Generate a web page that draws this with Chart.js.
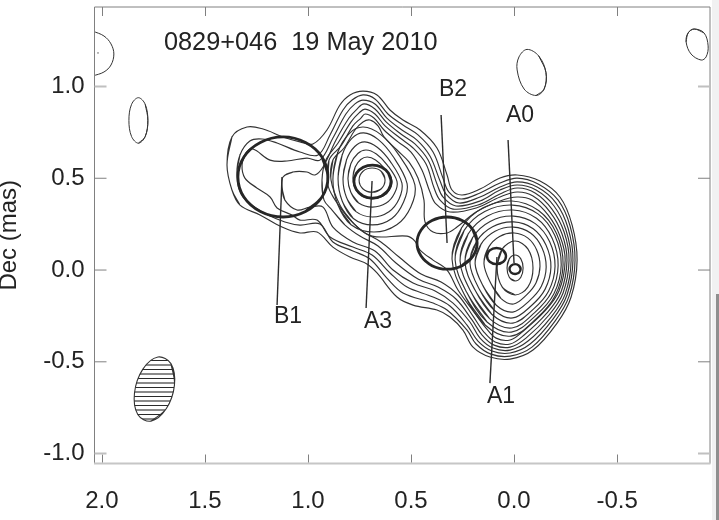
<!DOCTYPE html>
<html><head><meta charset="utf-8">
<style>html,body{margin:0;padding:0;background:#fff;overflow:hidden;width:719px;height:520px}
#c{position:absolute;left:0;top:0}
#strip{position:absolute;left:712px;top:0;width:7px;height:520px;background:#f1f1f2}
#thumb{position:absolute;left:716px;top:294px;width:3px;height:226px;background:#8f8f8f}</style>
<script src="https://cdn.jsdelivr.net/npm/chart.js@4"></script></head>
<body><canvas id="c" width="719" height="520"></canvas><div id="strip"></div><div id="thumb"></div>
<script>
const xTicks=[2.0,1.5,1.0,0.5,0.0,-0.5];
const yTicks=[-1.0,-0.5,0.0,0.5,1.0];
const titleText="0829+046  19 May 2010";
const titlePos=[1.699,1.248];
const labelNames=["B1","A3","B2","A0","A1"];
const labelX=[1.097,0.660,0.296,-0.029,0.063];
const labelY=[-0.245,-0.272,0.992,0.850,-0.681];
// shared contours (around A3 and A0, outer ones also round B1)
const s1=[[1.393,.572],[1.369,.725],[1.296,.779],[1.218,.768],[1.121,.725],[1.039,.698],[.976,.687],[.908,.763],[.845,.899],[.796,.954],[.733,.975],[.665,.954],[.602,.872],[.539,.817],[.456,.763],[.374,.665],[.325,.518],[.301,.436],[.252,.409],[.165,.441],[.068,.501],[-.015,.518],[-.126,.485],[-.223,.398],[-.282,.245],[-.306,.054],[-.277,-.147],[-.209,-.289],[-.092,-.436],[.019,-.485],[.117,-.474],[.199,-.420],[.248,-.327],[.311,-.256],[.374,-.218],[.490,-.191],[.568,-.147],[.665,-.016],[.714,.033],[.796,.071],[.879,.125],[.956,.207],[1.039,.202],[1.126,.234],[1.233,.300],[1.330,.354],[1.369,.436]];
const s2=[[1.345,.518],[1.330,.627],[1.282,.703],[1.223,.714],[1.150,.692],[1.039,.643],[.951,.627],[.893,.736],[.830,.872],[.786,.926],[.733,.954],[.675,.932],[.612,.850],[.539,.790],[.466,.736],[.393,.643],[.345,.501],[.316,.425],[.257,.387],[.165,.420],[.068,.474],[-.015,.501],[-.117,.469],[-.214,.381],[-.272,.240],[-.296,.054],[-.267,-.142],[-.199,-.278],[-.087,-.420],[.019,-.469],[.112,-.458],[.184,-.403],[.228,-.327],[.325,-.218],[.393,-.180],[.539,-.125],[.617,-.044],[.699,.060],[.782,.104],[.879,.153],[.942,.251],[1.039,.245],[1.112,.262],[1.194,.300],[1.267,.349],[1.325,.414]];
const s3=[[1.320,.572],[1.301,.638],[1.267,.659],[1.184,.599],[1.102,.594],[1.005,.610],[.942,.599],[.879,.719],[.816,.850],[.772,.905],[.733,.926],[.675,.905],[.617,.828],[.544,.763],[.471,.708],[.408,.621],[.359,.485],[.330,.414],[.267,.365],[.165,.398],[.068,.452],[-.015,.480],[-.112,.452],[-.204,.365],[-.262,.229],[-.286,.054],[-.257,-.136],[-.189,-.267],[-.078,-.403],[.019,-.452],[.107,-.441],[.175,-.387],[.228,-.300],[.311,-.196],[.393,-.147],[.519,-.093],[.602,-.016],[.689,.082],[.782,.125],[.893,.180],[.956,.272],[1.039,.272],[1.078,.300],[1.150,.338],[1.184,.398],[1.248,.447],[1.306,.501]];
const s4=[[1.121,.507],[1.073,.534],[1.005,.534],[.966,.518],[.927,.561],[.864,.708],[.801,.828],[.762,.877],[.728,.905],[.675,.877],[.621,.807],[.549,.741],[.481,.687],[.417,.599],[.374,.469],[.345,.398],[.282,.349],[.165,.376],[.068,.436],[-.015,.463],[-.107,.436],[-.194,.349],[-.252,.218],[-.277,.054],[-.248,-.131],[-.180,-.256],[-.068,-.387],[.019,-.436],[.102,-.425],[.165,-.371],[.214,-.283],[.296,-.180],[.383,-.114],[.490,-.071],[.587,0],[.675,.104],[.782,.153],[.879,.234],[.927,.343],[.990,.343],[1.053,.327],[1.112,.381],[1.126,.452]];
const s5=[[.922,.381],[.932,.490],[.913,.599],[.854,.692],[.791,.807],[.752,.856],[.723,.877],[.675,.850],[.626,.785],[.553,.719],[.490,.665],[.427,.578],[.388,.447],[.359,.381],[.296,.332],[.175,.354],[.068,.414],[-.015,.447],[-.102,.420],[-.184,.332],[-.243,.207],[-.267,.054],[-.238,-.125],[-.170,-.245],[-.058,-.371],[.019,-.420],[.097,-.409],[.155,-.354],[.204,-.272],[.282,-.158],[.369,-.093],[.466,-.049],[.573,.038],[.660,.131],[.748,.185],[.820,.245],[.883,.327]];
const s6=[[.903,.463],[.898,.599],[.840,.676],[.782,.785],[.743,.828],[.723,.850],[.680,.828],[.631,.763],[.563,.698],[.500,.643],[.447,.545],[.408,.425],[.379,.360],[.311,.316],[.184,.338],[.068,.398],[-.015,.425],[-.092,.403],[-.175,.316],[-.233,.196],[-.257,.054],[-.228,-.120],[-.160,-.234],[-.049,-.354],[.019,-.403],[.092,-.392],[.146,-.338],[.199,-.251],[.272,-.136],[.354,-.065],[.451,-.022],[.558,.071],[.646,.153],[.738,.213],[.816,.300],[.874,.392]];
const s7=[[.888,.490],[.879,.599],[.825,.665],[.772,.763],[.733,.807],[.699,.817],[.660,.785],[.631,.725],[.568,.654],[.510,.589],[.466,.501],[.437,.381],[.432,.262],[.393,.207],[.325,.202],[.277,.234],[.184,.316],[.068,.376],[-.015,.398],[-.087,.381],[-.165,.300],[-.223,.185],[-.248,.054],[-.218,-.114],[-.150,-.223],[-.039,-.338],[.019,-.381],[.087,-.371],[.136,-.316],[.194,-.229],[.272,-.109],[.325,0],[.393,.054],[.456,.109],[.481,.158],[.519,.185],[.689,.185],[.786,.262],[.845,.354]];
// closed rings round A3
const r1=[[.879,.493],[.855,.642],[.799,.745],[.732,.779],[.648,.739],[.561,.630],[.481,.464],[.501,.344],[.569,.247],[.680,.207],[.791,.247],[.855,.356]];
const r2=[[.854,.497],[.834,.627],[.787,.717],[.730,.747],[.660,.712],[.586,.617],[.519,.471],[.536,.371],[.593,.281],[.687,.246],[.780,.281],[.834,.376]];
const r3=[[.830,.494],[.813,.600],[.773,.673],[.724,.698],[.664,.669],[.601,.592],[.544,.473],[.558,.387],[.607,.318],[.687,.289],[.767,.318],[.813,.395]];
const r4=[[.806,.499],[.792,.579],[.758,.635],[.718,.654],[.668,.632],[.616,.573],[.568,.483],[.580,.418],[.620,.365],[.687,.343],[.754,.365],[.792,.424]];
const r5=[[.782,.502],[.771,.561],[.744,.602],[.712,.616],[.672,.600],[.631,.556],[.593,.490],[.602,.442],[.635,.403],[.688,.387],[.740,.403],[.771,.447]];
const r6=[[.626,.490],[.644,.537],[.689,.556],[.734,.537],[.752,.490],[.734,.443],[.689,.424],[.644,.443]];
// closed rings round A0
const a1=[[.301,.060],[.255,.229],[.150,.339],[.010,.376],[-.119,.324],[-.206,.199],[-.238,.030],[-.200,-.139],[-.109,-.264],[.015,-.360],[.139,-.301],[.242,-.132]];
const a2=[[.286,.056],[.242,.216],[.142,.319],[.008,.354],[-.116,.306],[-.198,.188],[-.229,.029],[-.193,-.130],[-.105,-.248],[.013,-.338],[.131,-.283],[.229,-.123]];
const a3=[[.262,.051],[.222,.198],[.129,.295],[.005,.327],[-.109,.282],[-.185,.173],[-.214,.025],[-.181,-.123],[-.100,-.232],[.010,-.316],[.119,-.265],[.210,-.117]];
const a4=[[.238,.043],[.201,.177],[.116,.265],[.002,.294],[-.103,.253],[-.173,.154],[-.199,.020],[-.168,-.114],[-.094,-.213],[.006,-.289],[.107,-.242],[.190,-.108]];
const a5=[[.214,.037],[.181,.157],[.104,.236],[.002,.262],[-.093,.225],[-.155,.136],[-.179,.016],[-.151,-.104],[-.085,-.193],[.006,-.261],[.096,-.219],[.171,-.099]];
const a6=[[.189,.035],[.160,.141],[.092,.211],[.003,.234],[-.080,.202],[-.135,.123],[-.156,.016],[-.132,-.090],[-.073,-.169],[.006,-.229],[.086,-.192],[.151,-.085]];
const a7=[[.146,.036],[.123,.125],[.070,.183],[-.001,.202],[-.066,.175],[-.110,.109],[-.126,.020],[-.107,-.069],[-.061,-.135],[.002,-.185],[.064,-.154],[.116,-.065]];
const a8=[[.082,.011],[.057,.115],[-.005,.158],[-.067,.115],[-.092,.011],[-.067,-.093],[-.005,-.136],[.057,-.093]];
const a9=[[.034,.011],[.023,.061],[-.005,.082],[-.033,.061],[-.044,.011],[-.033,-.039],[-.005,-.060],[.023,-.039]];
// thick component circles
const cB1=[[.903,.507],[.932,.616],[1.012,.695],[1.121,.725],[1.231,.695],[1.311,.616],[1.340,.507],[1.311,.398],[1.231,.319],[1.121,.289],[1.012,.319],[.932,.398]];
const cA3=[[.597,.482],[.609,.527],[.642,.560],[.687,.572],[.732,.560],[.765,.527],[.777,.482],[.765,.437],[.732,.404],[.687,.392],[.642,.404],[.609,.437]];
const cB2=[[.179,.147],[.199,.218],[.252,.270],[.325,.289],[.398,.270],[.451,.218],[.471,.147],[.451,.076],[.398,.024],[.325,.005],[.252,.024],[.199,.076]];
const cA1=[[.039,.076],[.052,.107],[.085,.120],[.118,.107],[.131,.076],[.118,.045],[.085,.032],[.052,.045]];
const cA0=[[-.032,.005],[-.024,.024],[-.005,.032],[.014,.024],[.022,.005],[.014,-.014],[-.005,-.022],[-.024,-.014]];
// leader lines
const lB1=[[1.126,.507],[1.150,-.190]];
const lA3=[[.689,.485],[.718,-.207]];
const lB2=[[.354,.845],[.325,.147]];
const lA0=[[.029,.708],[0,.038]];
const lA1=[[.083,.071],[.117,-.616]];
// faint noise contours
const nTL=[[2.045,1.302],[1.990,1.275],[1.956,1.232],[1.942,1.177],[1.956,1.117],[1.990,1.079],[2.045,1.057]];
const nDot=[[2.019,1.183]];
const nL=[[1.777,.815],[1.790,.903],[1.823,.939],[1.856,.903],[1.869,.815],[1.856,.727],[1.823,.691],[1.790,.727]];
const nM=[[-.155,1.076],[-.120,1.166],[-.063,1.202],[-.024,1.161],[-.015,1.090],[-.049,.986],[-.107,.951],[-.146,.986]];
const nR=[[-.874,1.313],[-.922,1.292],[-.942,1.221],[-.932,1.161],[-.908,1.144],[-.859,1.177],[-.835,1.243],[-.845,1.292]];
const beam=[[1.648,-.627],[1.665,-.510],[1.728,-.474],[1.802,-.541],[1.842,-.670],[1.826,-.787],[1.762,-.823],[1.688,-.756]];

const FONT='"Liberation Sans",Arial,sans-serif', INK='#232323';
const pts=a=>a.map(p=>({x:p[0],y:p[1]}));
// a ring is its typed points, carried once round past the seam so the curve has no corner there
const closed=a=>{const n=a.length;return pts([a[n-2],a[n-1],...a,a[0],a[1]]);};
const ring=(a,w,col)=>({data:closed(a),borderColor:col||'#333',borderWidth:w,tension:.36,showLine:true,pointRadius:0,fill:false});
const seg=(a,w)=>({data:pts(a),borderColor:'#2c2c2c',borderWidth:w,tension:0,showLine:true,pointRadius:0,fill:false});

const pc=document.createElement('canvas');pc.width=4;pc.height=9;
const px=pc.getContext('2d');px.fillStyle='#fff';px.fillRect(0,0,4,9);
px.fillStyle='#2a2a2a';px.fillRect(0,0,4,1);px.fillStyle='#8a8a8a';px.fillRect(0,4,4,2);
const hatch=document.getElementById('c').getContext('2d').createPattern(pc,'repeat');

const beamSet=ring(beam,1.1,'#333');beamSet.fill='shape';beamSet.backgroundColor=hatch;
const openNoise=ring(nTL,1,'#333');openNoise.data=pts(nTL);

const framePlugin={id:'frame',afterDatasetsDraw(ch){
 const g=ch.ctx,{left:l,right:r,top:t,bottom:b}=ch.chartArea,X=ch.scales.x,Y=ch.scales.y;
 g.save();
 g.strokeStyle='#808080';g.lineWidth=1;
 g.beginPath();g.moveTo(l,b);g.lineTo(l,t);g.lineTo(r,t);g.lineTo(r,b);g.stroke();
 g.strokeStyle='#c6c6c6';g.lineWidth=2;g.beginPath();g.moveTo(l-.5,b);g.lineTo(r+.5,b);g.stroke();
 g.strokeStyle='#808080';g.lineWidth=1;
 xTicks.forEach(v=>{const p=Math.round(X.getPixelForValue(v))+.5;g.beginPath();g.moveTo(p,t);g.lineTo(p,t+9);g.moveTo(p,b-1);g.lineTo(p,b-9);g.stroke();});
 yTicks.forEach(v=>{const p=Y.getPixelForValue(v);const heavy=Math.abs(v)===1;
  g.strokeStyle=heavy?'#c0c0c0':'#808080';g.lineWidth=heavy?2:1;
  g.beginPath();g.moveTo(l,p);g.lineTo(l+12,p);g.moveTo(r,p);g.lineTo(r-12,p);g.stroke();});
 g.fillStyle=INK;g.textBaseline='middle';
 g.font='25.3px '+FONT;g.textAlign='left';
 g.fillText(titleText,X.getPixelForValue(titlePos[0]),Y.getPixelForValue(titlePos[1])+2);
 g.font='23px '+FONT;g.textAlign='center';
 labelNames.forEach((n,i)=>g.fillText(n,X.getPixelForValue(labelX[i]),Y.getPixelForValue(labelY[i])+2));
 g.restore();
}};

new Chart(document.getElementById('c'),{
 type:'scatter',
 data:{datasets:[
  ring(cB1,2.8,'#262626'),ring(cA3,2.8,'#262626'),ring(cB2,2.8,'#262626'),ring(cA1,2.4,'#262626'),ring(cA0,2.4,'#262626'),
  seg(lB1,1.4),seg(lA3,1.4),seg(lB2,1.4),seg(lA0,1.4),seg(lA1,1.4),
  ...[s1,s2,s3,s4,s5,s6,s7,r1,r2,r3,r4,r5,r6,a1,a2,a3,a4,a5,a6,a7,a8,a9].map(c=>ring(c,1.15)),
  openNoise,ring(nL,1),ring(nM,1),ring(nR,1),beamSet,
  {data:pts(nDot),pointRadius:.7,backgroundColor:'#333',borderWidth:0,showLine:false}
 ]},
 options:{
  responsive:false,animation:false,devicePixelRatio:1,
  layout:{padding:{top:7,right:9,left:0,bottom:0}},
  plugins:{legend:{display:false},tooltip:{enabled:false},title:{display:false}},
  scales:{
   x:{type:'linear',reverse:true,min:-0.951,max:2.036,
    border:{display:false},grid:{display:false,drawTicks:false},
    afterBuildTicks:s=>{s.ticks=xTicks.map(v=>({value:v}));},
    afterFit:s=>{s.height=56.5;s.paddingLeft=0;s.paddingRight=0;},
    ticks:{padding:23,maxRotation:0,autoSkip:false,color:INK,font:{family:FONT,size:24},callback:v=>Number(v).toFixed(1)}},
   y:{type:'linear',min:-1.054,max:1.433,
    border:{display:false},grid:{display:false,drawTicks:false},
    afterBuildTicks:s=>{s.ticks=yTicks.map(v=>({value:v}));},
    afterFit:s=>{s.width=94.5;s.paddingTop=0;s.paddingBottom=0;},
    title:{display:true,text:'Dec (mas)',color:INK,font:{family:FONT,size:24,lineHeight:1},padding:{top:-3,bottom:0}},
    ticks:{padding:10,autoSkip:false,color:INK,font:{family:FONT,size:24},callback:v=>Number(v).toFixed(1)}}
  }
 },
 plugins:[framePlugin]
});
</script></body></html>
